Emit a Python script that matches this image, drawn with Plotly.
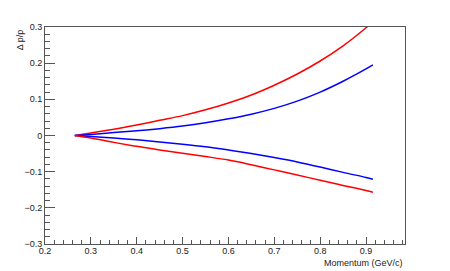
import plotly.graph_objects as go

momentum = [0.265, 0.3, 0.35, 0.4, 0.45, 0.5, 0.55, 0.6, 0.65, 0.7, 0.75, 0.8, 0.85, 0.9, 0.915]
red_upper = [0, 0.007, 0.017, 0.029, 0.042, 0.055, 0.071, 0.090, 0.112, 0.139, 0.170, 0.206, 0.248, 0.298, 0.315]
blue_upper = [0, 0.003, 0.008, 0.013, 0.019, 0.026, 0.035, 0.046, 0.059, 0.075, 0.095, 0.120, 0.150, 0.184, 0.195]
blue_lower = [0, -0.003, -0.007, -0.012, -0.018, -0.024, -0.031, -0.040, -0.050, -0.061, -0.073, -0.087, -0.102, -0.116, -0.121]
red_lower = [0, -0.007, -0.019, -0.030, -0.040, -0.049, -0.058, -0.068, -0.081, -0.095, -0.109, -0.124, -0.138, -0.152, -0.157]

fig = go.Figure()
for ys, col in [(red_upper, "#ff0000"), (blue_upper, "#0000ff"), (blue_lower, "#0000ff"), (red_lower, "#ff0000")]:
    fig.add_trace(go.Scatter(x=momentum, y=ys, mode="lines", line=dict(color=col, width=1.5, shape="spline"),
                             showlegend=False, hoverinfo="skip"))

FONT = "Liberation Sans, Arial, sans-serif"
axis_common = dict(showgrid=False, zeroline=False, showline=True, mirror=True, linecolor="#555555", linewidth=1,
                   ticks="inside", tickcolor="#555555", tickwidth=1, automargin=False,
                   tickfont=dict(family=FONT, size=9, color="#222222"))

# page body has an 8px default margin; figure sized to fit the 450x271 window
fig.update_layout(
    width=442, height=263,
    margin=dict(l=37, r=45, t=19, b=27),
    paper_bgcolor="white", plot_bgcolor="white",
    xaxis=dict(range=[0.2, 0.985], dtick=0.1, tick0=0.2, ticklen=7, ticklabelstandoff=-2,
               minor=dict(dtick=0.02, ticklen=4, tickcolor="#555555", ticks="inside"),
               **axis_common),
    yaxis=dict(range=[-0.3, 0.3], dtick=0.1, tick0=0, ticklen=10,
               minor=dict(dtick=0.02, ticklen=5, tickcolor="#555555", ticks="inside"),
               **axis_common),
    annotations=[
        dict(text="Momentum (GeV/c)", xref="paper", yref="paper", x=1.0, y=-0.088, xanchor="right", yanchor="middle",
             showarrow=False, font=dict(family=FONT, size=9, color="#222222")),
        dict(text="Δ p/p", xref="paper", yref="paper", x=-0.07, y=1.0, xanchor="center", yanchor="top",
             textangle=-90, showarrow=False, font=dict(family=FONT, size=9, color="#222222")),
    ],
)

fig.write_html("out.html")
